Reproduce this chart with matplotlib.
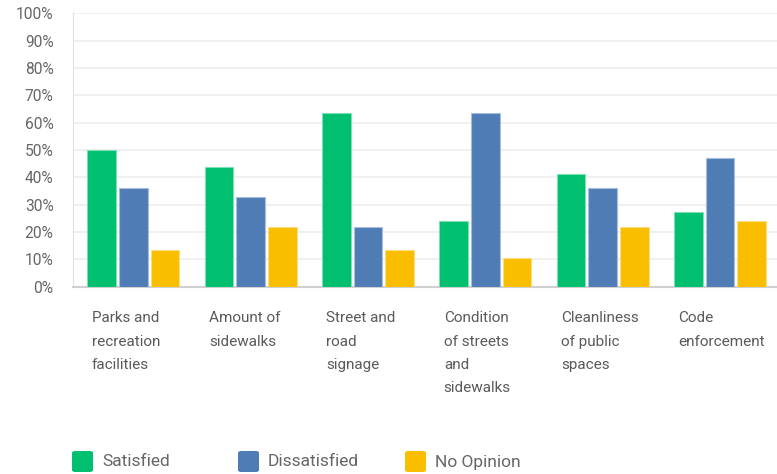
import matplotlib
matplotlib.use("Agg")
import matplotlib.pyplot as plt
from matplotlib.patches import FancyBboxPatch
from matplotlib.transforms import blended_transform_factory
import numpy as np

categories = [
    "Parks and\nrecreation\nfacilities",
    "Amount of\nsidewalks",
    "Street and\nroad\nsignage",
    "Condition\nof streets\nand\nsidewalks",
    "Cleanliness\nof public\nspaces",
    "Code\nenforcement",
]
series_names = ["Satisfied", "Dissatisfied", "No Opinion"]
satisfied = [50.0, 43.8, 63.6, 24.2, 41.2, 27.4]
dissatisfied = [36.0, 32.8, 21.8, 63.6, 36.0, 47.1]
no_opinion = [13.5, 21.8, 13.5, 10.5, 21.8, 24.2]
y_ticks = [0, 10, 20, 30, 40, 50, 60, 70, 80, 90, 100]

colors = ["#00BF6F", "#507CB6", "#F9BE00"]
edge_colors = ["#7FE0B6", "#A6BEDC", "#FCDE7F"]
font = ["Roboto", "DejaVu Sans"]
text_color = "#5A5A5A"

fig = plt.figure(figsize=(7.77, 4.74), dpi=100)
ax = fig.add_axes([73 / 777, 1 - 286.7 / 474, 704 / 777, 273.4 / 474])

x = np.arange(len(categories))
width = 0.245
offsets = [-0.27, 0.0, 0.27]
for vals, off, c, ec in zip([satisfied, dissatisfied, no_opinion], offsets, colors, edge_colors):
    ax.bar(x + off + 0.015, vals, width, color=c, edgecolor=ec, linewidth=0.8, zorder=3)

ax.set_xlim(-0.5, len(categories) - 0.5)
ax.set_ylim(0, 100)
ax.set_yticks(y_ticks)
ax.set_yticklabels([f"{t}%" for t in y_ticks], family=font, fontsize=11.2, color="#666666")
ax.tick_params(axis="y", length=0, pad=14)
ax.set_xticks([])
ax.grid(axis="y", color="#EDEDED", linewidth=1.2, zorder=0)
for s in ["top", "right"]:
    ax.spines[s].set_visible(False)
ax.spines["left"].set_color("#E0E0E0")
ax.spines["bottom"].set_color("#D0D0D0")
ax.spines["bottom"].set_linewidth(1.5)

trans = blended_transform_factory(ax.transData, ax.transAxes)
for i, label in enumerate(categories):
    ax.text(i - 0.34, -0.09, label, transform=trans, ha="left", va="top",
            family=font, fontsize=11, color=text_color, linespacing=1.85, clip_on=False)

# legend row
legend_x = [72, 238, 405]
for name, c, lx in zip(series_names, colors, legend_x):
    box = FancyBboxPatch((lx / 777, 1 - 472 / 474), 21 / 777, 21 / 474,
                         boxstyle="round,pad=0,rounding_size=0.004",
                         transform=fig.transFigure, facecolor=c, edgecolor="none")
    fig.add_artist(box)
    fig.text((lx + 30) / 777, 1 - 462 / 474, name, ha="left", va="center",
             family=font, fontsize=12.5, color="#666666")

fig.savefig("out.png", dpi=100, facecolor="white")
